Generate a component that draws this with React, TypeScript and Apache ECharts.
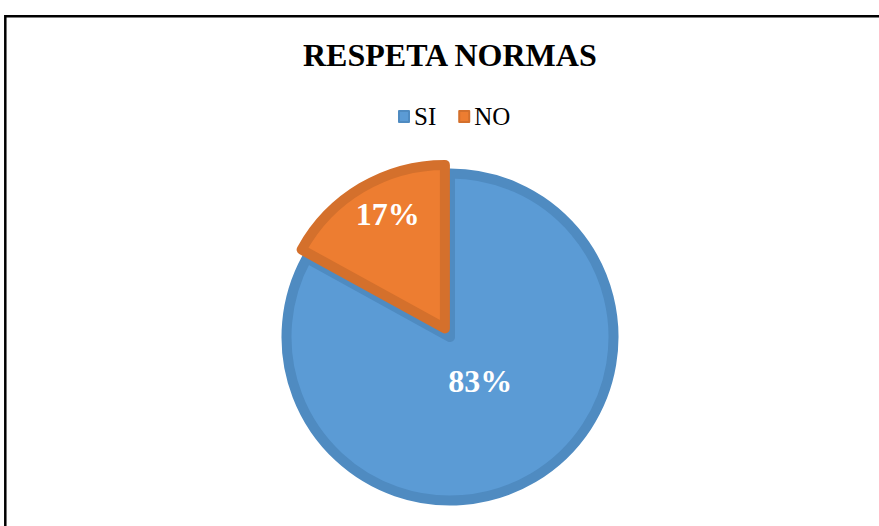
import React, { useEffect, useRef } from "react";
import * as echarts from "echarts";

const title = "RESPETA NORMAS";
const categories = ["SI", "NO"];
const values = [83, 17];
const fills = ["#5B9BD5", "#ED7D31"];
const borders = ["#4F8BC1", "#D4702C"];
const labelShift = [
  [-13, -29],
  [-14, -41],
];

export default function App() {
  const ref = useRef<HTMLDivElement>(null);
  useEffect(() => {
    if (!ref.current) return;
    const chart = echarts.init(ref.current, null, { renderer: "svg" });
    const font = "'Liberation Serif', 'Times New Roman', serif";
    chart.setOption({
      animation: false,
      backgroundColor: "#ffffff",
      title: {
        text: title,
        left: 298,
        top: 34,
        textStyle: { fontFamily: font, fontSize: 32, fontWeight: "bold", color: "#000" },
      },
      legend: {
        top: 99,
        left: 393,
        itemWidth: 10,
        itemHeight: 11,
        itemGap: 22,
        icon: "rect",
        selectedMode: false,
        textStyle: { fontFamily: font, fontSize: 25, color: "#000" },
        data: categories,
      },
      graphic: [
        {
          type: "rect",
          shape: { x: 5.3, y: 16.2, width: 1000, height: 1000 },
          style: { fill: "none", stroke: "#000", lineWidth: 2.5 },
          silent: true,
          z: 100,
        },
      ],
      series: [
        {
          type: "pie",
          center: [450, 337],
          radius: 163.5,
          startAngle: 90,
          clockwise: true,
          selectedMode: "multiple",
          selectedOffset: 10,
          label: {
            show: true,
            position: "inside",
            formatter: "{d}%",
            fontFamily: font,
            fontSize: 32,
            fontWeight: "bold",
            color: "#fff",
          },
          labelLine: { show: false },
          labelLayout: (p: any) => ({ dx: labelShift[p.dataIndex][0], dy: labelShift[p.dataIndex][1] }),
          emphasis: { disabled: true },
          data: categories.map((c, i) => ({
            name: c,
            value: values[i],
            selected: i === 1,
            itemStyle: { color: fills[i], borderColor: borders[i], borderWidth: 10 },
          })),
        },
      ],
    });
    return () => chart.dispose();
  }, []);
  return <div ref={ref} style={{ position: "absolute", left: 0, top: 0, width: 879, height: 526 }} />;
}
